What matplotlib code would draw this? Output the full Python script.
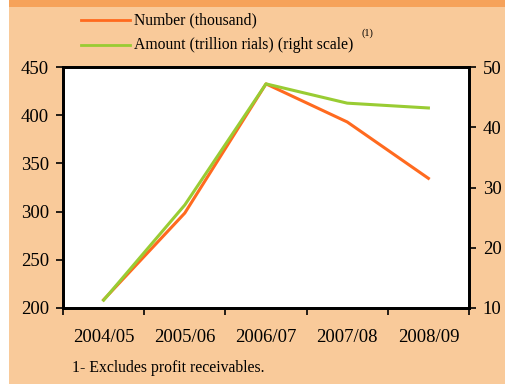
import matplotlib.pyplot as plt
from matplotlib.patches import Rectangle
from matplotlib.lines import Line2D
import numpy as np

years = ["2004/05", "2005/06", "2006/07", "2007/08", "2008/09"]
number_thousand = [208.5, 298.5, 432.5, 393.0, 334.5]
amount_trillion = [11.3, 27.1, 47.2, 44.0, 43.2]

bg = "#f9ca9a"
band = "#f6a25a"
orange = "#ff6a1f"
green = "#99cc33"

plt.rcParams["font.family"] = ["Liberation Serif", "DejaVu Serif"]

fig = plt.figure(figsize=(5.06, 3.84), dpi=100)
fig.patch.set_facecolor(bg)
# white strip on the left edge and darker band on top
fig.patches.append(Rectangle((0, 0), 9 / 506, 1, transform=fig.transFigure,
                             facecolor="white", edgecolor="none", zorder=0))
fig.patches.append(Rectangle((9 / 506, 1 - 7 / 384), 1, 7 / 384, transform=fig.transFigure,
                             facecolor=band, edgecolor="none", zorder=0))

ax = fig.add_axes([63 / 506, 76 / 384, 406 / 506, 241 / 384])
ax.set_facecolor("white")
x = np.arange(len(years))
ax.plot(x, number_thousand, color=orange, lw=2.2, zorder=3)
ax.set_xlim(-0.5, len(years) - 0.5)
ax.set_ylim(200, 450)
ax.set_yticks([200, 250, 300, 350, 400, 450])

ax2 = ax.twinx()
ax2.plot(x, amount_trillion, color=green, lw=2.2, zorder=4)
ax2.set_ylim(10, 50)
ax2.set_yticks([10, 20, 30, 40, 50])

ax.set_xticks(x)
ax.set_xticklabels(years)
ax.set_xticks(np.arange(-0.5, len(years)), minor=True)
ax.tick_params(axis="x", which="major", length=0, pad=15, labelsize=13.5)
ax.tick_params(axis="x", which="minor", length=5, width=1.2, direction="out")
ax.tick_params(axis="y", length=5, width=1.2, pad=5, labelsize=13.5)
ax2.tick_params(axis="y", length=5, width=1.2, pad=5, labelsize=13.5)

for a in (ax, ax2):
    for s in a.spines.values():
        s.set_linewidth(2)
        s.set_color("black")

# legend drawn by hand at the top
fig.lines.append(Line2D([81 / 506, 130 / 506], [1 - 20 / 384] * 2, transform=fig.transFigure,
                        color=orange, lw=2))
fig.lines.append(Line2D([81 / 506, 130 / 506], [1 - 45 / 384] * 2, transform=fig.transFigure,
                        color=green, lw=2))
fig.text(134 / 506, 1 - 20 / 384, "Number (thousand)", fontsize=11.3, va="center")
fig.text(134 / 506, 1 - 45 / 384, "Amount (trillion rials) (right scale)", fontsize=11.3, va="center")
fig.text(362 / 506, 1 - 33 / 384, "(1)", fontsize=7.5, va="center")

fig.text(72 / 506, 1 - 368 / 384, "1- Excludes profit receivables.", fontsize=11.3, va="center")

fig.savefig("out.png", dpi=100, facecolor=fig.get_facecolor())
